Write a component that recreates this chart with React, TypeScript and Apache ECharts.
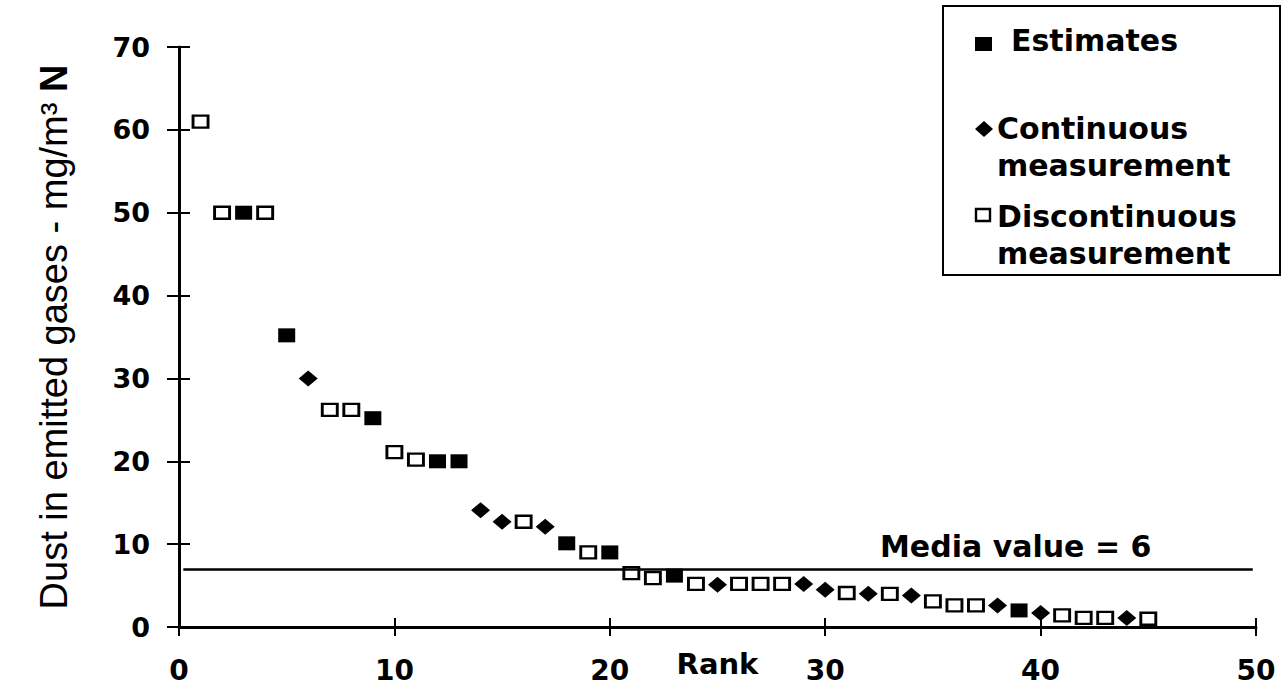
import React, { useEffect, useRef } from "react";
import * as echarts from "echarts";

// Rank / value pairs
const estimates: [number, number][] = [
  [3, 50], [5, 35.2], [9, 25.2], [12, 20], [13, 20], [18, 10.1], [20, 9], [23, 6.2], [39, 2],
];
const continuous: [number, number][] = [
  [6, 30], [14, 14.1], [15, 12.7], [17, 12.1], [25, 5.1], [29, 5.2], [30, 4.5], [32, 4],
  [34, 3.8], [38, 2.6], [40, 1.7], [44, 1.1],
];
const discontinuous: [number, number][] = [
  [1, 61], [2, 50], [4, 50], [7, 26.2], [8, 26.2], [10, 21.1], [11, 20.2], [16, 12.7],
  [19, 9], [21, 6.5], [22, 5.9], [24, 5.2], [26, 5.2], [27, 5.2], [28, 5.2], [31, 4.1],
  [33, 4], [35, 3.1], [36, 2.6], [37, 2.6], [41, 1.4], [42, 1.1], [43, 1.1], [45, 1.0],
];
const medianY = 7;
const medianStart = 0.2;
const medianEnd = 49.85;
const medianLabel = "Media value = 6";
const xTitle = "Rank";
const yTitle = "Dust in emitted gases - mg/m\u00b3 {n|N}";
const legendNames = ["Estimates", "Continuous", "Discontinuous"];

const BOLD = "DejaVu Sans";

export default function App() {
  const ref = useRef<HTMLDivElement>(null);
  useEffect(() => {
    if (!ref.current) return;
    const chart = echarts.init(ref.current, null, { renderer: "svg" });
    const axisLineStyle = { color: "#000", width: 3 };
    const option: any = {
      animation: false,
      backgroundColor: "#fff",
      grid: { left: 179, right: 27, top: 47, bottom: 59, containLabel: false, outerBoundsMode: "none" },
      xAxis: [
        {
          type: "value",
          min: 0,
          max: 50,
          interval: 10,
          position: "bottom",
          name: xTitle,
          nameLocation: "middle",
          nameGap: 22,
          nameMoveOverlap: false,
          nameTextStyle: { fontFamily: BOLD, fontWeight: "bold", fontSize: 29, color: "#000", verticalAlign: "top" },
          axisLine: { show: true, lineStyle: axisLineStyle },
          axisTick: { show: true, length: 9, lineStyle: { color: "#000", width: 2 } },
          axisLabel: { fontFamily: BOLD, fontWeight: "bold", fontSize: 28, color: "#000", margin: 29 },
          splitLine: { show: false },
        },
        {
          type: "value",
          min: 0,
          max: 50,
          interval: 10,
          position: "bottom",
          axisLine: { show: false },
          axisTick: { show: true, inside: true, length: 9, lineStyle: { color: "#000", width: 2 } },
          axisLabel: { show: false },
          splitLine: { show: false },
        },
      ],
      yAxis: [
        {
          type: "value",
          min: 0,
          max: 70,
          interval: 10,
          position: "left",
          name: yTitle,
          nameLocation: "middle",
          nameGap: 106,
          nameRotate: 90,
          nameMoveOverlap: false,
          nameTextStyle: {
            fontFamily: "Liberation Sans",
            fontSize: 38,
            color: "#000",
            rich: { n: { fontFamily: "Liberation Sans", fontWeight: "bold", fontSize: 38, color: "#000" } },
          },
          axisLine: { show: true, lineStyle: axisLineStyle },
          axisTick: { show: true, length: 12, lineStyle: { color: "#000", width: 2 } },
          axisLabel: { fontFamily: BOLD, fontWeight: "bold", fontSize: 27, color: "#000", margin: 29 },
          splitLine: { show: false },
        },
        {
          type: "value",
          min: 0,
          max: 70,
          interval: 10,
          position: "left",
          axisLine: { show: false },
          axisTick: { show: true, inside: true, length: 11, lineStyle: { color: "#000", width: 2 } },
          axisLabel: { show: false },
          splitLine: { show: false },
        },
      ],
      series: [
        {
          name: legendNames[0],
          type: "scatter",
          data: estimates,
          symbol: "rect",
          symbolSize: [17, 14],
          itemStyle: { color: "#000", opacity: 1 },
          z: 3,
          markLine: {
            silent: true,
            symbol: ["none", "none"],
            label: { show: false },
            lineStyle: { color: "#000", width: 2.5, type: "solid", opacity: 1 },
            data: [[{ coord: [medianStart, medianY] }, { coord: [medianEnd, medianY] }]],
          },
        },
        {
          name: legendNames[1],
          type: "scatter",
          data: continuous,
          symbol: "diamond",
          symbolSize: [19, 16],
          itemStyle: { color: "#000", opacity: 1 },
          z: 3,
        },
        {
          name: legendNames[2],
          type: "scatter",
          data: discontinuous,
          symbol: "rect",
          symbolSize: [15, 12],
          itemStyle: { color: "#fff", borderColor: "#000", borderWidth: 2.6, opacity: 1 },
          z: 3,
        },
      ],
      graphic: [
        {
          type: "rect",
          shape: { x: 943, y: 6, width: 337, height: 269 },
          style: { fill: "#fff", stroke: "#000", lineWidth: 2 },
          z: 10,
        },
        { type: "rect", shape: { x: 975, y: 37, width: 17, height: 14 }, style: { fill: "#000" }, z: 11 },
        {
          type: "polygon",
          shape: { points: [[984, 121], [993, 129], [984, 137], [975, 129]] },
          style: { fill: "#000" },
          z: 11,
        },
        {
          type: "rect",
          shape: { x: 976, y: 209, width: 14, height: 12 },
          style: { fill: "#fff", stroke: "#000", lineWidth: 2.4 },
          z: 11,
        },
        {
          type: "text", x: 1011, y: 40, z: 11,
          style: { text: legendNames[0], fontFamily: BOLD, fontWeight: "bold", fontSize: 30, fill: "#000", verticalAlign: "middle" },
        },
        {
          type: "text", x: 997, y: 128, z: 11,
          style: { text: legendNames[1], fontFamily: BOLD, fontWeight: "bold", fontSize: 30, fill: "#000", verticalAlign: "middle" },
        },
        {
          type: "text", x: 997, y: 165, z: 11,
          style: { text: "measurement", fontFamily: BOLD, fontWeight: "bold", fontSize: 30, fill: "#000", verticalAlign: "middle" },
        },
        {
          type: "text", x: 997, y: 216, z: 11,
          style: { text: legendNames[2], fontFamily: BOLD, fontWeight: "bold", fontSize: 30, fill: "#000", verticalAlign: "middle" },
        },
        {
          type: "text", x: 997, y: 253, z: 11,
          style: { text: "measurement", fontFamily: BOLD, fontWeight: "bold", fontSize: 30, fill: "#000", verticalAlign: "middle" },
        },
        {
          type: "text", x: 880, y: 546, z: 11,
          style: { text: medianLabel, fontFamily: BOLD, fontWeight: "bold", fontSize: 30, fill: "#000", verticalAlign: "middle" },
        },
      ],
    };
    chart.setOption(option);
    return () => chart.dispose();
  }, []);
  return (
    <div
      ref={ref}
      style={{ position: "fixed", left: 0, top: 0, width: 1283, height: 686, background: "#fff" }}
    />
  );
}
